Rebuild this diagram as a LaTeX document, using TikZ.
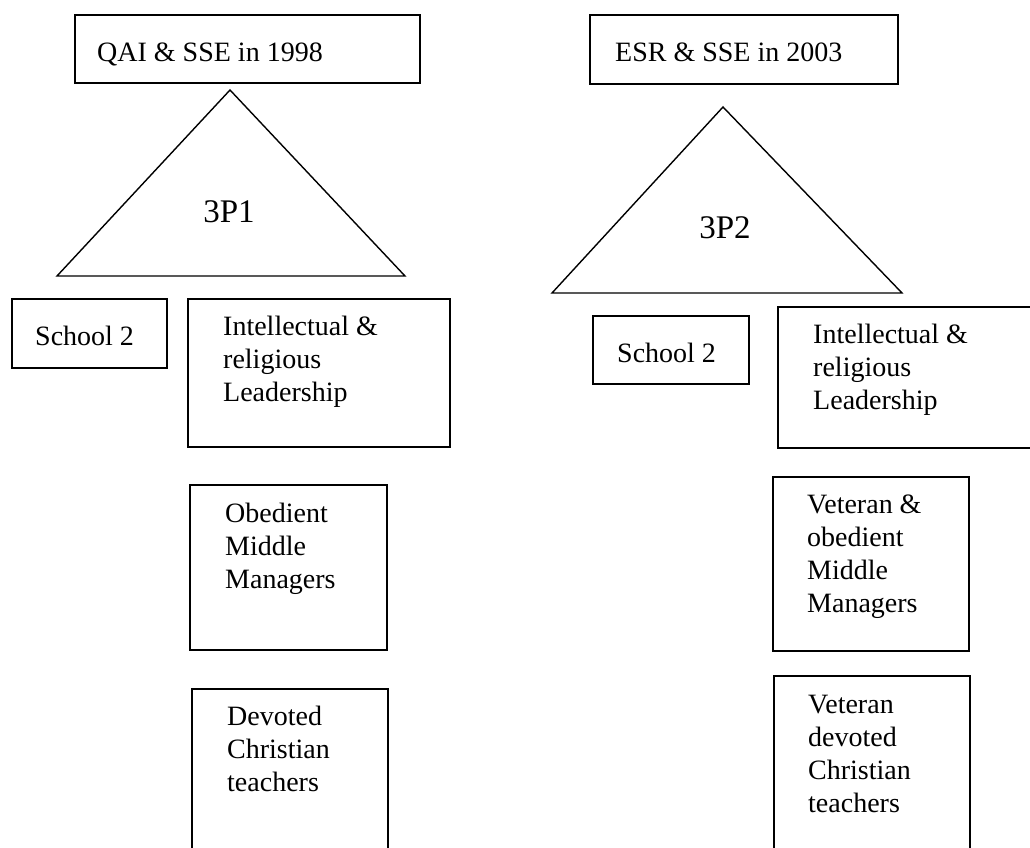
\documentclass[tikz,border=0pt]{standalone}
\usepackage{fontspec}
\setmainfont{Liberation Serif}
\begin{document}
\begin{tikzpicture}[x=1pt,y=-1pt,
  box/.style={draw, line width=2pt, anchor=north west, inner sep=0pt, outer sep=0pt},
  tri/.style={draw, line width=1.4pt, line join=miter},
  lbl/.style={anchor=base west, inner sep=0pt, font=\fontsize{28}{33}\selectfont},
  big/.style={anchor=base, inner sep=0pt, font=\fontsize{33}{40}\selectfont}]
\useasboundingbox (0,0) rectangle (1030,848);
\clip (0,0) rectangle (1030,848);

% ---------- 1998 column ----------
\node[box, minimum width=345pt, minimum height=68pt] (t1) at (75,15) {};
\node[lbl] (t1txt) at (97,62) {QAI \& SSE in 1998};

\coordinate (p1top) at (230,90);
\coordinate (p1left) at (57,276);
\coordinate (p1right) at (405,276);
\draw[tri] (p1top) -- (p1left) -- (p1right) -- cycle;
\node[big] (p1txt) at (229,222) {3P1};

\node[box, minimum width=155pt, minimum height=69pt] (s1) at (12,299) {};
\node[lbl] (s1txt) at (35,345) {School 2};

\node[box, minimum width=262pt, minimum height=148pt] (il1) at (188,299) {};
\node[lbl] (il1txt) at (223,335) {\begin{tabular}[t]{@{}l@{}}Intellectual \&\\religious\\Leadership\end{tabular}};

\node[box, minimum width=197pt, minimum height=165pt] (mm1) at (190,485) {};
\node[lbl] (mm1txt) at (225,522) {\begin{tabular}[t]{@{}l@{}}Obedient\\Middle\\Managers\end{tabular}};

\node[box, minimum width=196pt, minimum height=200pt] (ct1) at (192,689) {};
\node[lbl] (ct1txt) at (227,725) {\begin{tabular}[t]{@{}l@{}}Devoted\\Christian\\teachers\end{tabular}};

% ---------- 2003 column ----------
\node[box, minimum width=308pt, minimum height=69pt] (t2) at (590,15) {};
\node[lbl] (t2txt) at (615,62) {ESR \& SSE in 2003};

\coordinate (p2top) at (723,107);
\coordinate (p2left) at (552,293);
\coordinate (p2right) at (902,293);
\draw[tri] (p2top) -- (p2left) -- (p2right) -- cycle;
\node[big] (p2txt) at (725,238) {3P2};

\node[box, minimum width=156pt, minimum height=68pt] (s2) at (593,316) {};
\node[lbl] (s2txt) at (617,362) {School 2};

\node[box, minimum width=280pt, minimum height=141pt] (il2) at (778,307) {};
\node[lbl] (il2txt) at (813,343) {\begin{tabular}[t]{@{}l@{}}Intellectual \&\\religious\\Leadership\end{tabular}};

\node[box, minimum width=196pt, minimum height=174pt] (mm2) at (773,477) {};
\node[lbl] (mm2txt) at (807,513) {\begin{tabular}[t]{@{}l@{}}Veteran \&\\obedient\\Middle\\Managers\end{tabular}};

\node[box, minimum width=196pt, minimum height=200pt] (ct2) at (774,676) {};
\node[lbl] (ct2txt) at (808,713) {\begin{tabular}[t]{@{}l@{}}Veteran\\devoted\\Christian\\teachers\end{tabular}};
\end{tikzpicture}
\end{document}
